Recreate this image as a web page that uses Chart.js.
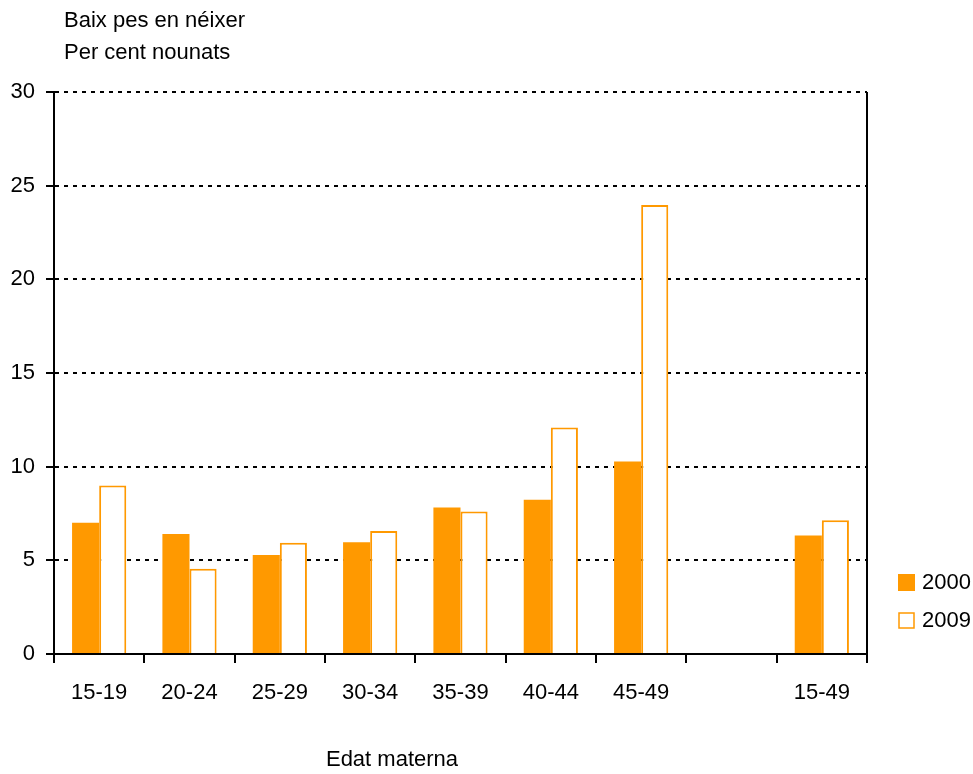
<!DOCTYPE html>
<html>
<head>
<meta charset="utf-8">
<script src="https://cdn.jsdelivr.net/npm/chart.js@4.4.1/dist/chart.umd.min.js"></script>
<style>
  html, body { margin: 0; padding: 0; background: #fff; }
  #wrap { width: 973px; height: 774px; position: relative; }
</style>
</head>
<body>
<div id="wrap"><canvas id="grafica" width="973" height="774"></canvas></div>
<script>
// dades
const edats = ['15-19', '20-24', '25-29', '30-34', '35-39', '40-44', '45-49', '', '15-49'];
const valors2000 = [7.0, 6.41, 5.28, 5.97, 7.82, 8.24, 10.27, null, 6.33];
const valors2009 = [9.0, 4.55, 5.94, 6.56, 7.61, 12.09, 23.97, null, 7.14];
const ticksY = [0, 5, 10, 15, 20, 25, 30];
const titol = ['Baix pes en néixer', 'Per cent nounats'];
const titolX = 'Edat materna';
const anys = ['2000', '2009'];

const taronja = '#FF9900';
const fontBase = '"Liberation Sans", Arial, sans-serif';

// textos, vora dreta i llegenda
const extres = {
    id: 'extres',
    afterDraw(chart) {
        const ctx = chart.ctx;
        const area = chart.chartArea;
        ctx.save();
        ctx.strokeStyle = '#000';
        ctx.lineWidth = 2;
        ctx.beginPath();
        ctx.moveTo(area.right, area.top);
        ctx.lineTo(area.right, area.bottom + 1);
        ctx.stroke();

        ctx.fillStyle = '#000';
        ctx.font = '22px ' + fontBase;
        ctx.textBaseline = 'middle';
        ctx.textAlign = 'left';
        ctx.fillText(titol[0], 64, 21);
        ctx.fillText(titol[1], 64, 53);

        ctx.textAlign = 'center';
        ctx.fillText(titolX, 392, 760);

        // llegenda
        ctx.textAlign = 'left';
        ctx.fillStyle = taronja;
        ctx.fillRect(898, 574, 17, 17);
        ctx.fillStyle = '#fff';
        ctx.fillRect(899, 613, 15, 15);
        ctx.strokeStyle = taronja;
        ctx.lineWidth = 1.5;
        ctx.strokeRect(899, 613, 15, 15);
        ctx.fillStyle = '#000';
        ctx.fillText(anys[0], 922, 583);
        ctx.fillText(anys[1], 922, 621);
        ctx.restore();
    }
};

new Chart(document.getElementById('grafica'), {
    type: 'bar',
    data: {
        labels: edats,
        datasets: [{
            label: anys[0],
            data: valors2000,
            backgroundColor: taronja,
            borderWidth: 0,
            categoryPercentage: 0.6,
            barPercentage: 1.0
        }, {
            label: anys[1],
            data: valors2009,
            backgroundColor: '#fff',
            borderColor: taronja,
            borderWidth: 2,
            categoryPercentage: 0.6,
            barPercentage: 1.0
        }]
    },
    options: {
        responsive: false,
        animation: false,
        devicePixelRatio: 1,
        layout: { padding: { left: 0, top: 92, right: 106, bottom: 0 } },
        plugins: {
            legend: { display: false },
            tooltip: { enabled: false }
        },
        scales: {
            x: {
                grid: {
                    offset: true,
                    drawOnChartArea: false,
                    color: '#000',
                    lineWidth: 2,
                    tickLength: 9
                },
                border: { color: '#000', width: 2 },
                ticks: {
                    color: '#000',
                    font: { family: fontBase, size: 22 },
                    padding: 17,
                    maxRotation: 0,
                    autoSkip: false
                },
                afterFit(scale) { scale.height = 120; }
            },
            y: {
                min: 0,
                max: 30,
                afterBuildTicks(scale) { scale.ticks = ticksY.map(v => ({ value: v })); },
                grid: {
                    color: '#000',
                    lineWidth: 2,
                    tickBorderDash: [],
                    tickLength: 8,
                    drawTicks: true
                },
                border: { color: '#000', width: 2, dash: [4, 5] },
                ticks: {
                    color: '#000',
                    font: { family: fontBase, size: 22 },
                    padding: 11
                },
                afterFit(scale) { scale.width = 54; }
            }
        }
    },
    plugins: [extres]
});
</script>
</body>
</html>
